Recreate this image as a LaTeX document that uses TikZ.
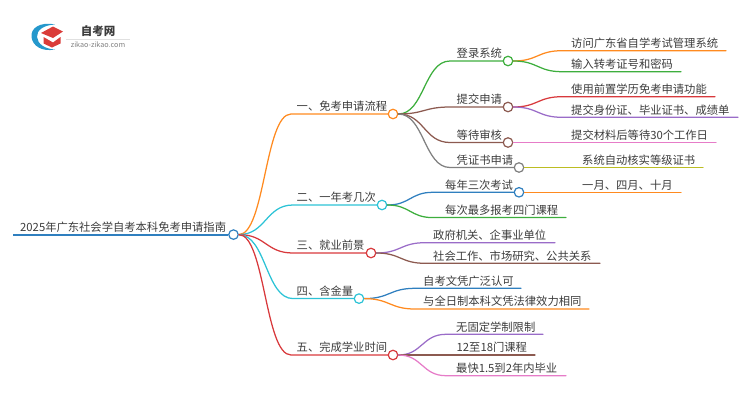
\documentclass[tikz,border=0pt]{standalone}
\usepackage{fontspec}
\usetikzlibrary{calc}
\setmainfont{Noto Sans CJK SC}
\definecolor{cBlue}{HTML}{2F7FBF}
\definecolor{cOrange}{HTML}{FF8A1F}
\definecolor{cGreen}{HTML}{3DAE3D}
\definecolor{cRed}{HTML}{D8393C}
\definecolor{cPurple}{HTML}{9A6CC8}
\definecolor{cBrown}{HTML}{8C5A50}
\definecolor{cPink}{HTML}{E67CC8}
\definecolor{cGray}{HTML}{808080}
\definecolor{cOlive}{HTML}{BCBD22}
\definecolor{cCyan}{HTML}{2CC3D6}
\definecolor{cText}{HTML}{3C3C3C}
\tikzset{
  hub/.style={circle,fill=white,draw=#1,line width=1.2pt,minimum size=9.5pt,inner sep=0pt},
  lbl/.style={text=cText,font=\fontsize{11.3}{13}\selectfont,inner sep=0pt,anchor=base west},
  link/.style={draw=#1,line width=1.25pt,line cap=round}
}
% S-curve leaving a.east and arriving flat at b, then straight to c
\newcommand{\scurve}[4]{%
  \draw[link=#1] let \p1=(#2.east),\p2=(#3),\n1={(\x2-\x1)*0.5} in
    (\p1) .. controls ([xshift=\n1]\p1) and ([xshift=-\n1]\p2) .. (\p2) -- (#4);
}
% \branch{parent}{name}{colour}{xflat}{y}{xend}{xtext}{text}
\newcommand{\branch}[8]{%
  \coordinate (#2f) at (#4,#5);
  \coordinate (#2e) at (#6,#5);
  \node[lbl] (#2t) at (#7,#5-3.3) {#8};
  \scurve{#3}{#1}{#2f}{#2e}
}
% \hubbranch{parent}{name}{line colour}{xflat}{y}{xhub}{hub colour}{xtext}{text}
\newcommand{\hubbranch}[9]{%
  \node[hub=#7] (#2) at (#6,#5) {};
  \coordinate (#2f) at (#4,#5);
  \node[lbl] (#2t) at (#8,#5-3.3) {#9};
  \scurve{#3}{#1}{#2f}{#2.west}
}
\begin{document}
\begin{tikzpicture}[x=1pt,y=-1pt]
\useasboundingbox (0,0) rectangle (750,410);
% logo
\fill[cBlue!80!cyan] (55,24.5) .. controls (40,21.5) and (30.5,28) .. (31.5,37) .. controls (32.5,46) and (42,52) .. (55,49.5) .. controls (45,49) and (37.5,44) .. (37,37) .. controls (36.5,30) and (44,25) .. (55,24.5) -- cycle;
\fill[cRed!95!orange] (41,33) -- (53,26.5) -- (63,31.5) -- (53,38) -- cycle;
\fill[cRed!95!orange] (43.5,37) -- (53,42.5) -- (60.5,37) -- (60.5,43.5) -- (52,47.5) -- (43.5,43.5) -- cycle;
\node[inner sep=0pt,text=cText,font=\fontsize{11.5}{13}\selectfont\bfseries] (logoa) at (98,31) {自考网};
\node[inner sep=0pt,text=cGray,font=\fontsize{7.2}{9}\selectfont] (logob) at (98,45) {zikao-zikao.com};
\draw[black!12,line width=0.5pt] (66,39) -- (130,39);
% root
\node[hub=cBlue] (root) at (233.5,234.6) {};
\coordinate (rootl) at (13,234.6);
\node[lbl] (roott) at (20,231) {2025年广东社会学自考本科免考申请指南};
\draw[draw=cBlue,line width=2pt] (rootl) -- (root.west);
% level 1
\hubbranch{root}{a}{cOrange}{291}{114}{393}{cOrange}{296.5}{一、免考申请流程}
\hubbranch{root}{b}{cCyan}{293}{205}{382}{cCyan}{296.5}{二、一年考几次}
\hubbranch{root}{c}{cRed}{293}{253}{371}{cRed}{296.5}{三、就业前景}
\hubbranch{root}{d}{cCyan}{293}{298.6}{359}{cCyan}{296.5}{四、含金量}
\hubbranch{root}{e}{cRed}{291}{355}{393}{cRed}{296.5}{五、完成学业时间}
% level 2 of a
\hubbranch{a}{a1}{cGreen}{450}{61}{508}{cGreen}{456.5}{登录系统}
\hubbranch{a}{a2}{cBrown}{450}{107}{508}{cBrown}{456.5}{提交申请}
\hubbranch{a}{a3}{cBrown}{450}{142.5}{508}{cBrown}{456.5}{等待审核}
\hubbranch{a}{a4}{cGray}{450}{167.5}{519}{cGray}{456.5}{凭证书申请}
% level 2 of b
\hubbranch{b}{b1}{cBlue}{433}{192.3}{519}{cBlue}{445}{每年三次考试}
\branch{b}{b2}{cGreen}{433}{217.6}{566}{445}{每次最多报考四门课程}
% leaves
\branch{a1}{l1}{cOrange}{562}{50.7}{726}{571}{访问广东省自学考试管理系统}
\branch{a1}{l2}{cGreen}{562}{71.7}{681}{571}{输入转考证号和密码}
\branch{a2}{l3}{cRed}{562}{96.7}{715}{571}{使用前置学历免考申请功能}
\branch{a2}{l4}{cPurple}{562}{117.3}{738}{571}{提交身份证、毕业证书、成绩单}
\branch{a3}{l5}{cPink}{562}{142.5}{716}{571}{提交材料后等待30个工作日}
\branch{a4}{l6}{cOlive}{573}{167.5}{703}{582}{系统自动核实等级证书}
\branch{b1}{l7}{cOrange}{573}{192.3}{681}{582}{一月、四月、十月}
\branch{c}{c1}{cPurple}{425}{242.7}{555}{433}{政府机关、企事业单位}
\branch{c}{c2}{cBrown}{425}{263.3}{600}{433}{社会工作、市场研究、公共关系}
\branch{d}{d1}{cBlue}{415}{288.3}{521}{423}{自考文凭广泛认可}
\branch{d}{d2}{cOrange}{415}{309}{589}{423}{与全日制本科文凭法律效力相同}
\branch{e}{e1}{cPurple}{446}{334.3}{543}{456}{无固定学制限制}
\branch{e}{e2}{cBrown}{446}{355}{535}{456.5}{12至18门课程}
\branch{e}{e3}{cPink}{446}{375.7}{566}{456}{最快1.5到2年内毕业}
\end{tikzpicture}
\end{document}
